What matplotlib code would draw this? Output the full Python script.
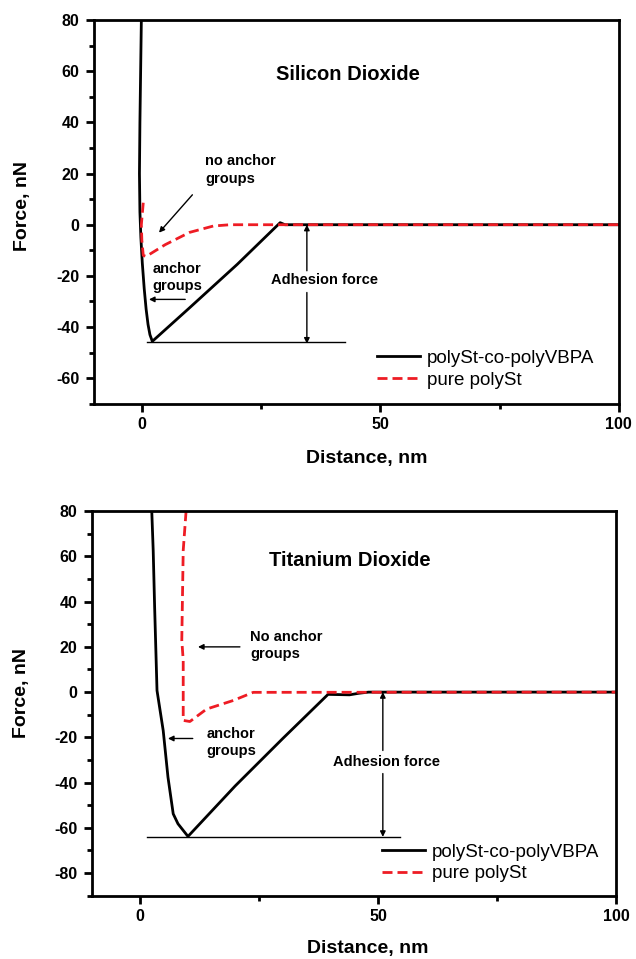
import matplotlib
matplotlib.use("Agg")
import matplotlib.pyplot as plt
from matplotlib.ticker import MultipleLocator

plt.rcParams['font.family'] = ['Liberation Sans', 'DejaVu Sans']
plt.rcParams['axes.unicode_minus'] = False

# Silicon dioxide curves
si_black_x = [-0.1, -0.25, -0.4, -0.5, -0.4, -0.2, 0.1, 0.5, 0.9, 1.3, 1.7, 2.2, 10, 20, 29, 30, 60, 100]
si_black_y = [80, 60, 40, 20, 5, -5, -15, -25, -33, -39, -43, -45.6, -32.5, -15.5, 0.8, 0, 0, 0]
si_red_x = [0.3, -0.1, 0.0, 0.3, 0.9, 4.9, 10, 15, 18.5, 100]
si_red_y = [8.6, 0, -6, -12, -12.4, -7.8, -3, -0.5, 0, 0]

# Titanium dioxide curves
ti_black_x = [2.5, 2.8, 3.1, 3.6, 4.9, 5.9, 7.0, 8.0, 10.1, 20, 30, 39.5, 44, 46, 48, 100]
ti_black_y = [80, 62.6, 37.6, 0.7, -17, -37.6, -53.8, -58.2, -63.8, -41.5, -20.5, -1, -1.2, -0.5, 0, 0]
ti_red_x = [9.7, 9.1, 8.8, 9.1, 9.1, 10.5, 14, 19.6, 23.8, 100]
ti_red_y = [80, 62.6, 23, 14, -12.5, -13, -7.5, -3.7, -0.1, 0]

legend_labels = ['polySt-co-polyVBPA', 'pure polySt']

fig = plt.figure(figsize=(6.36, 9.59), dpi=100)
ax1 = fig.add_axes([0.148, 0.579, 0.825, 0.400])
ax2 = fig.add_axes([0.145, 0.066, 0.824, 0.401])

def style_axis(ax, ylim, xlab_pos, ylab_pos):
    ax.set_xlim(-10, 100)
    ax.set_ylim(*ylim)
    ax.xaxis.set_major_locator(MultipleLocator(50))
    ax.xaxis.set_minor_locator(MultipleLocator(25))
    ax.yaxis.set_major_locator(MultipleLocator(20))
    ax.yaxis.set_minor_locator(MultipleLocator(10))
    for s in ax.spines.values():
        s.set_linewidth(2)
    ax.tick_params(which='major', direction='out', length=6, width=2, labelsize=11.5)
    ax.tick_params(axis='y', which='major', pad=4.5)
    ax.tick_params(which='minor', direction='out', length=3.5, width=2)
    for lab in ax.get_xticklabels() + ax.get_yticklabels():
        lab.set_fontweight('bold')
    ax.set_xlabel('Distance, nm', fontsize=14, fontweight='bold')
    ax.set_ylabel('Force, nN', fontsize=14, fontweight='bold')
    ax.xaxis.set_label_coords(*xlab_pos)
    ax.yaxis.set_label_coords(*ylab_pos)

arrow = dict(arrowstyle='-|>', color='k', lw=1, mutation_scale=8, shrinkA=0, shrinkB=0)
red = '#ee1c24'
dash = (3.6, 1.8)
note = dict(fontsize=10.5, fontweight='bold', linespacing=1.3)
leg = dict(loc='upper left', frameon=False, fontsize=13.5, handlelength=2.3,
           handletextpad=0.37, labelspacing=0.25, borderaxespad=0, borderpad=0)

# top panel
ax1.plot(si_black_x, si_black_y, color='k', lw=2, label=legend_labels[0])
ax1.plot(si_red_x, si_red_y, color=red, lw=2, dashes=dash, label=legend_labels[1])
style_axis(ax1, (-70, 80), (0.52, -0.12), (-0.12, 0.516))
ax1.text(43.2, 58.7, 'Silicon Dioxide', fontsize=14.5, fontweight='bold', ha='center', va='center')
ax1.text(13.3, 27.5, 'no anchor\ngroups', ha='left', va='top', **note)
ax1.annotate('', xy=(3.6, -3.1), xytext=(10.6, 11.7), arrowprops=arrow)
ax1.text(2.2, -14.4, 'anchor\ngroups', ha='left', va='top', **note)
ax1.annotate('', xy=(1.5, -29.2), xytext=(9.1, -29.2), arrowprops=arrow)
ax1.text(38.2, -21.5, 'Adhesion force', ha='center', va='center', **note)
ax1.annotate('', xy=(34.6, 0), xytext=(34.6, -18), arrowprops=arrow)
ax1.annotate('', xy=(34.6, -46.5), xytext=(34.6, -26.5), arrowprops=arrow)
ax1.plot([1.1, 42.6], [-46, -46], color='k', lw=1)
ax1.legend(bbox_to_anchor=(0.539, 0.141), **leg)

# bottom panel
ax2.plot(ti_black_x, ti_black_y, color='k', lw=2, label=legend_labels[0])
ax2.plot(ti_red_x, ti_red_y, color=red, lw=2, dashes=dash, label=legend_labels[1])
style_axis(ax2, (-90, 80), (0.525, -0.115), (-0.118, 0.526))
ax2.text(44.1, 58.2, 'Titanium Dioxide', fontsize=14.5, fontweight='bold', ha='center', va='center')
ax2.text(23.1, 27.5, 'No anchor\ngroups', ha='left', va='top', **note)
ax2.annotate('', xy=(12.2, 20), xytext=(21, 20), arrowprops=arrow)
ax2.text(14, -15.5, 'anchor\ngroups', ha='left', va='top', **note)
ax2.annotate('', xy=(5.9, -20.5), xytext=(11.1, -20.5), arrowprops=arrow)
ax2.text(51.8, -31, 'Adhesion force', ha='center', va='center', **note)
ax2.annotate('', xy=(51, 0), xytext=(51, -25.8), arrowprops=arrow)
ax2.annotate('', xy=(51, -64), xytext=(51, -36), arrowprops=arrow)
ax2.plot([1.5, 54.6], [-64, -64], color='k', lw=1)
ax2.legend(bbox_to_anchor=(0.553, 0.136), **leg)

fig.savefig('out.png', dpi=100)
